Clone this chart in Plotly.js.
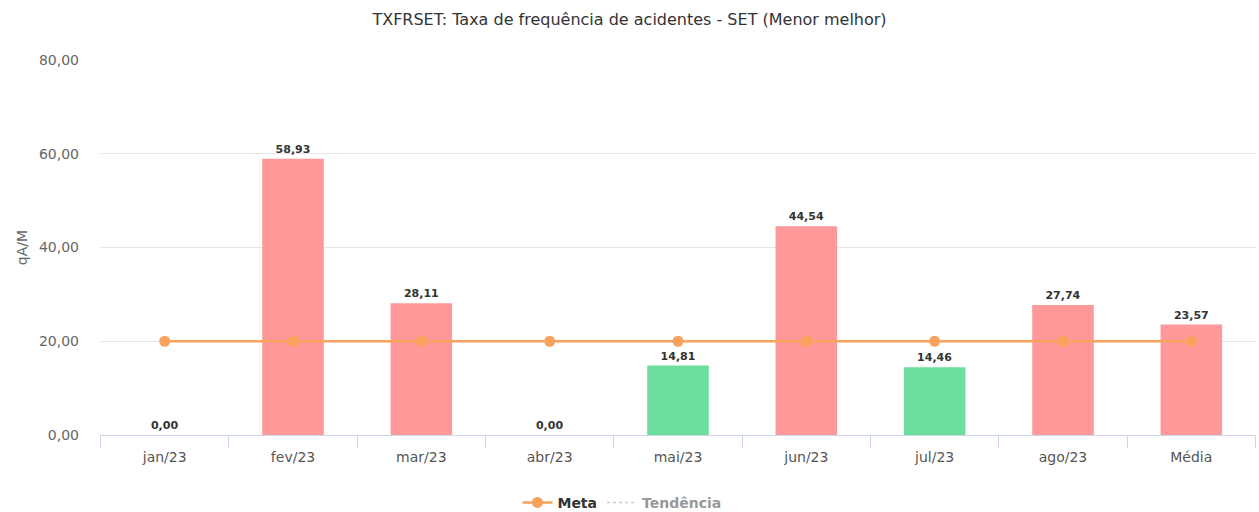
<!DOCTYPE html>
<html>
<head>
<meta charset="utf-8">
<script src="https://cdn.plot.ly/plotly-3.0.1.min.js"></script>
<style>html,body{margin:0;padding:0;background:#fff}#chart{width:1259px;height:512px}</style>
</head>
<body>
<div id="chart"></div>
<script>
const categories = ["jan/23","fev/23","mar/23","abr/23","mai/23","jun/23","jul/23","ago/23","Média"];
const values = [0.00, 58.93, 28.11, 0.00, 14.81, 44.54, 14.46, 27.74, 23.57];
const meta = [20, 20, 20, 20, 20, 20, 20, 20, 20];
const yTicks = [0, 20, 40, 60, 80];

const RED = "#FF9999", GREEN = "#6EDE9E", ORANGE = "#F7A35C";
const barColors = values.map((v, i) => v > meta[i] ? RED : GREEN);
const FONT = "DejaVu Sans, sans-serif";

const traces = [
  {
    type: "bar", x: categories, y: values, marker: {color: barColors},
    texttemplate: "%{y:.2f}", textposition: "outside", cliponaxis: false,
    textfont: {family: FONT, size: 11, color: "#333", weight: "bold"},
    showlegend: false, hoverinfo: "x+y"
  },
  {
    type: "scatter", mode: "lines+markers", name: "Meta", x: categories, y: meta,
    line: {color: ORANGE, width: 2.5}, marker: {color: ORANGE, size: 11}
  },
  {
    type: "scatter", mode: "lines", name: "Tendência", x: categories, y: values,
    line: {color: "#999", width: 1.5, dash: "dot"}, visible: "legendonly"
  }
];

const layout = {
  width: 1259, height: 512,
  margin: {l: 100, r: 3, t: 60, b: 77, autoexpand: false},
  paper_bgcolor: "#fff", plot_bgcolor: "#fff",
  separators: ",.",
  font: {family: FONT, size: 12, color: "#666"},
  title: {text: "TXFRSET: Taxa de frequência de acidentes - SET (Menor melhor)", x: 0.5, xanchor: "center", y: 0.962, yanchor: "middle",
          font: {family: FONT, size: 16, color: "#333"}},
  bargap: 0.52,
  xaxis: {
    type: "category", tickson: "boundaries", ticks: "outside", ticklen: 12, tickcolor: "#ccd6eb",
    showline: true, linecolor: "#ccd6eb", linewidth: 1, showgrid: false,
    tickfont: {family: FONT, size: 14, color: "#555"}, ticklabelstandoff: 9, fixedrange: true
  },
  yaxis: {
    range: [0, 80], tickvals: yTicks, tickformat: ".2f",
    gridcolor: "#e6e6e6", zeroline: false, showline: false,
    tickfont: {family: FONT, size: 14, color: "#666"}, ticklabelstandoff: 20,
    title: {text: "qA/M", standoff: 8, font: {family: FONT, size: 14, color: "#666"}}
  },
  showlegend: true,
  legend: {orientation: "h", xref: "container", yref: "container", x: 0.494, xanchor: "center", y: 0.018, yanchor: "middle",
           font: {family: FONT, size: 14, color: "#333", weight: "bold"}, itemwidth: 30},
  hovermode: "closest"
};

Plotly.newPlot("chart", traces, layout, {displayModeBar: false, staticPlot: true});
</script>
</body>
</html>
